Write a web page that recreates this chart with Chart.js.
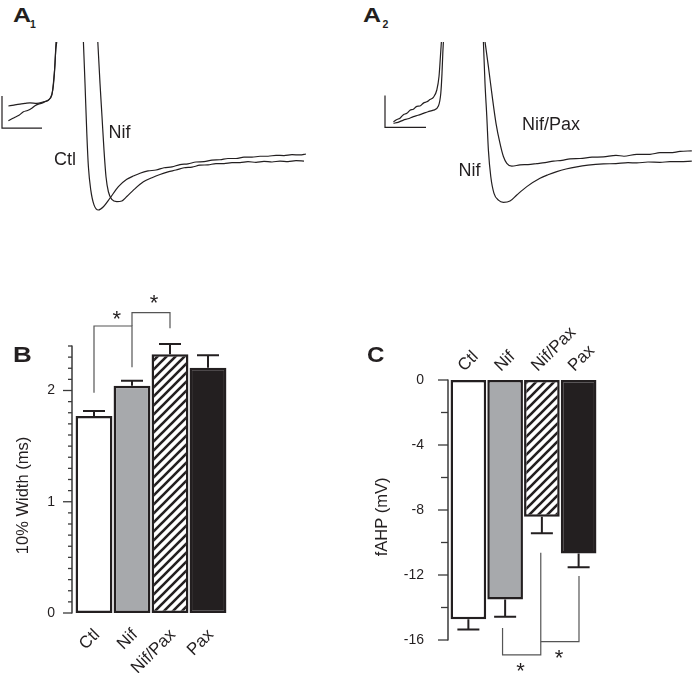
<!DOCTYPE html>
<html><head><meta charset="utf-8">
<script src="https://cdn.jsdelivr.net/npm/chart.js@4.4.1/dist/chart.umd.min.js"></script>
<style>
html,body{margin:0;padding:0;background:#fff;}
#wrap{position:relative;width:693px;height:693px;overflow:hidden;font-family:"Liberation Sans",Arial,sans-serif;color:#231f20;}
#wrap canvas{position:absolute;}
.lbl{position:absolute;white-space:nowrap;line-height:1;}
.bold{font-weight:bold;transform-origin:0 0;}
</style></head><body><div id="wrap">
<canvas id="a1" width="310" height="178" style="left:0;top:42px"></canvas>
<canvas id="a2" width="313" height="178" style="left:380px;top:42px"></canvas>
<canvas id="b" width="345" height="413" style="left:0;top:280px"></canvas>
<canvas id="c" width="343" height="413" style="left:350px;top:280px"></canvas>
<div class="lbl bold" style="left:12.7px;top:4.8px;font-size:20px;transform:scaleX(1.25)">A</div>
<div class="lbl bold" style="left:30px;top:19.4px;font-size:10.5px">1</div>
<div class="lbl bold" style="left:362.5px;top:4.8px;font-size:20px;transform:scaleX(1.25)">A</div>
<div class="lbl bold" style="left:382.5px;top:19.4px;font-size:10.5px">2</div>
<div class="lbl" style="left:54px;top:150.2px;font-size:18px">Ctl</div>
<div class="lbl" style="left:108.6px;top:122.9px;font-size:18px">Nif</div>
<div class="lbl" style="left:522px;top:114.5px;font-size:18px">Nif/Pax</div>
<div class="lbl" style="left:458.6px;top:161.2px;font-size:18px">Nif</div>
<div class="lbl bold" style="left:13px;top:344.4px;font-size:22px;transform:scaleX(1.18)">B</div>
<div class="lbl bold" style="left:367px;top:344.4px;font-size:22px;transform:scaleX(1.1)">C</div>
</div>
<script>
const INK = '#231f20';
const GREY = '#a7a9ac';
Chart.defaults.font.family = '"Liberation Sans", Arial, sans-serif';
Chart.defaults.color = INK;

// ---------- Panel A1 traces (time in ms, membrane potential in mV) ----------
const a1CtlT = [4.17, 4.25, 4.34, 4.42, 4.54, 4.7, 4.92, 5.17, 5.5, 5.92, 6.34, 6.7, 7.0, 7.4, 7.8, 8.2, 8.6, 9.0, 9.4, 9.8, 10.2, 10.6, 11.0, 11.4, 11.8, 12.2, 12.6, 13.0, 13.4, 13.8, 14.2, 14.6, 15.0, 15.3];
const a1CtlV = [-32.4, -45.4, -61.0, -71.5, -78.8, -83.4, -85.0, -84.0, -81.3, -77.7, -75.4, -74.3, -73.5, -72.8, -72.5, -71.8, -71.5, -70.8, -70.6, -70.0, -69.9, -69.4, -69.3, -68.9, -68.9, -68.5, -68.5, -68.2, -68.2, -67.9, -68.0, -67.7, -67.8, -67.5];
const a1NifT = [4.89, 5.0, 5.1, 5.2, 5.3, 5.42, 5.59, 5.84, 6.09, 6.34, 6.67, 7.17, 7.6, 8.0, 8.4, 8.8, 9.2, 9.6, 10.0, 10.4, 10.8, 11.2, 11.6, 12.0, 12.4, 12.8, 13.2, 13.6, 14.0, 14.4, 14.8, 15.2];
const a1NifV = [-32.4, -45.4, -55.8, -66.3, -74.6, -79.3, -81.7, -82.4, -82.2, -80.8, -78.8, -76.2, -74.9, -73.9, -73.1, -72.5, -71.8, -71.6, -71.0, -70.9, -70.5, -70.5, -70.2, -70.2, -69.9, -70.1, -69.8, -70.0, -69.7, -69.9, -69.6, -69.7];
const a1PreCtlT = [0.42, 0.7, 1.0, 1.25, 1.5, 1.84, 2.17, 2.42, 2.59, 2.67, 2.75, 2.8];
const a1PreCtlV = [-52.5, -52.2, -51.9, -51.7, -51.5, -51.7, -51.2, -50.6, -49.1, -45.4, -39.2, -32.4];
const a1PreNifT = [0.42, 0.6, 0.75, 0.95, 1.17, 1.38, 1.59, 1.75, 1.92, 2.1, 2.25, 2.5, 2.64, 2.72, 2.79, 2.84];
const a1PreNifV = [-57.1, -56.5, -56.0, -55.4, -54.3, -53.9, -53.2, -52.4, -51.9, -51.6, -51.2, -50.1, -47.5, -42.3, -35.0, -32.4];
const a1BarT = [0.1, 0.1, 2.1];
const a1BarV = [-49.4, -59.4, -59.4];

// ---------- Panel A2 traces ----------
const a2NifT = [5.17, 5.25, 5.34, 5.42, 5.54, 5.7, 5.92, 6.17, 6.5, 6.84, 7.34, 8.0, 8.4, 8.84, 9.3, 9.84, 10.4, 11.17, 11.8, 12.4, 12.84, 13.4, 14.0, 14.5, 15.0, 15.59];
const a2NifV = [-32.4, -45.4, -55.8, -66.3, -74.6, -79.8, -81.9, -82.6, -82.2, -80.3, -77.7, -75.1, -74.0, -73.0, -72.2, -71.5, -71.0, -70.6, -70.5, -70.2, -70.3, -70.0, -70.1, -69.9, -69.9, -69.7];
const a2NifPaxT = [5.25, 5.42, 5.59, 5.8, 6.0, 6.17, 6.34, 6.59, 7.0, 7.4, 7.84, 8.25, 8.67, 9.1, 9.5, 10.0, 10.6, 11.17, 11.8, 12.2, 12.84, 13.5, 14.0, 14.5, 15.0, 15.59];
const a2NifPaxV = [-32.4, -40.2, -48.5, -57.9, -64.2, -68.3, -70.4, -71.3, -70.9, -70.8, -70.5, -70.2, -69.7, -69.5, -69.0, -68.9, -68.5, -68.4, -67.9, -68.2, -67.6, -67.6, -67.1, -67.1, -66.7, -66.5];
const a2PreNifT = [0.67, 0.85, 1.0, 1.17, 1.34, 1.5, 1.67, 1.84, 2.0, 2.17, 2.34, 2.5, 2.67, 2.84, 2.95, 3.02, 3.07];
const a2PreNifV = [-57.4, -56.7, -56.3, -55.2, -54.8, -53.8, -53.5, -52.6, -52.5, -51.6, -51.2, -50.5, -49.8, -47.5, -43.3, -37.1, -32.4];
const a2PreNifPaxT = [0.67, 0.9, 1.17, 1.4, 1.67, 1.9, 2.17, 2.4, 2.67, 2.92, 3.04, 3.1, 3.14, 3.17];
const a2PreNifPaxV = [-57.9, -57.6, -56.9, -56.5, -55.8, -55.4, -54.8, -54.3, -53.8, -52.5, -48.5, -42.3, -36.0, -32.4];
const a2BarT = [0.25, 0.25, 2.3];
const a2BarV = [-49.2, -59.2, -59.2];

// ---------- Panels B and C ----------
const categories = ['Ctl', 'Nif', 'Nif/Pax', 'Pax'];
const widthMean = [1.77, 2.043, 2.325, 2.205];
const widthErr = [0.046, 0.045, 0.093, 0.111];
const fahpMean = [-14.73, -13.5, -8.41, -10.67];
const fahpErr = [0.62, 1.07, 1.02, 0.86];
const bBrackets = [[[0, 1.98], [0, 2.58], [1, 2.58], [1, 2.21]], [[1, 2.58], [1, 2.70], [2, 2.70], [2, 2.56]]];
const bStars = [[0.6, 2.68], [1.58, 2.82]];
const cBrackets = [[[0.93, -15.26], [0.93, -16.92], [1.97, -16.92], [1.97, -10.63]], [[1.97, -16.1], [3.01, -16.1], [3.01, -12.06]]];
const cStars = [[1.42, -17.68], [2.47, -16.86]];

function pts(t, v) { return t.map((x, i) => ({x: x, y: v[i]})); }
function trace(t, v, smooth) {
  return {data: pts(t, v), showLine: true, borderColor: INK, borderWidth: 1.2, pointRadius: 0,
    fill: false, cubicInterpolationMode: smooth ? 'monotone' : 'default', tension: 0};
}
function traceChart(id, sets, xmax) {
  new Chart(document.getElementById(id), {
    type: 'scatter',
    data: {datasets: sets},
    options: {
      responsive: false, animation: false, events: [],
      layout: {padding: 0},
      plugins: {legend: {display: false}, tooltip: {enabled: false}},
      scales: {
        x: {type: 'linear', min: 0, max: xmax, display: false},
        y: {type: 'linear', min: -88.125, max: -32.5, display: false}
      }
    }
  });
}
traceChart('a1', [
  trace(a1CtlT, a1CtlV, true), trace(a1NifT, a1NifV, true),
  trace(a1PreCtlT, a1PreCtlV, true), trace(a1PreNifT, a1PreNifV, true),
  trace(a1BarT, a1BarV, false)
], 15.5);
traceChart('a2', [
  trace(a2NifT, a2NifV, true), trace(a2NifPaxT, a2NifPaxV, true),
  trace(a2PreNifT, a2PreNifV, true), trace(a2PreNifPaxT, a2PreNifPaxV, true),
  trace(a2BarT, a2BarV, false)
], 15.65);

function hatch() {
  const s = 9, c = document.createElement('canvas'); c.width = s; c.height = s;
  const g = c.getContext('2d');
  g.fillStyle = '#fff'; g.fillRect(0, 0, s, s);
  g.strokeStyle = INK; g.lineWidth = 2.6;
  g.beginPath();
  g.moveTo(-2, s + 2); g.lineTo(s + 2, -2);
  g.moveTo(-2, 2); g.lineTo(2, -2);
  g.moveTo(s - 2, s + 2); g.lineTo(s + 2, s - 2);
  g.stroke();
  return g.createPattern(c, 'repeat');
}
const fills = ['#ffffff', GREY, hatch(), INK];

function axisPlugin(gap, major, minor) {
  return {id: 'axisTicks', afterDraw(chart) {
    const y = chart.scales.y, ctx = chart.ctx;
    const x0 = chart.chartArea.left - gap;
    ctx.save();
    ctx.strokeStyle = '#3a3a3a'; ctx.lineWidth = 1.5;
    ctx.beginPath();
    ctx.moveTo(x0, y.getPixelForValue(y.min) + 0.5); ctx.lineTo(x0, y.getPixelForValue(y.max) - 0.5);
    ctx.stroke();
    ctx.lineWidth = 1.3;
    y.ticks.forEach(t => {
      const py = y.getPixelForValue(t.value);
      const len = (t.label !== '' && t.label !== undefined) ? major : minor;
      ctx.beginPath(); ctx.moveTo(x0 - len, py); ctx.lineTo(x0, py); ctx.stroke();
    });
    ctx.restore();
  }};
}
function errPlugin(errs, dir) {
  return {id: 'errBars', afterDatasetsDraw(chart) {
    const meta = chart.getDatasetMeta(0), y = chart.scales.y, ctx = chart.ctx;
    const vals = chart.data.datasets[0].data;
    ctx.save(); ctx.strokeStyle = INK; ctx.lineWidth = 2;
    meta.data.forEach((bar, i) => {
      const y0 = y.getPixelForValue(vals[i]);
      const y1 = y.getPixelForValue(vals[i] + dir * errs[i]);
      ctx.beginPath();
      ctx.moveTo(bar.x, y0); ctx.lineTo(bar.x, y1);
      ctx.moveTo(bar.x - 11, y1); ctx.lineTo(bar.x + 11, y1);
      ctx.stroke();
    });
    ctx.restore();
  }};
}
function sigPlugin(brackets, stars) {
  return {id: 'sig', afterDraw(chart) {
    const x = chart.scales.x, y = chart.scales.y, ctx = chart.ctx;
    ctx.save(); ctx.strokeStyle = '#555'; ctx.lineWidth = 1.2;
    brackets.forEach(b => {
      ctx.beginPath();
      b.forEach((p, k) => {
        const px = x.getPixelForValue(p[0]), py = y.getPixelForValue(p[1]);
        if (k) ctx.lineTo(px, py); else ctx.moveTo(px, py);
      });
      ctx.stroke();
    });
    ctx.fillStyle = INK; ctx.font = '22px "Liberation Sans", Arial, sans-serif';
    ctx.textAlign = 'center'; ctx.textBaseline = 'middle';
    stars.forEach(s => ctx.fillText('*', x.getPixelForValue(s[0]), y.getPixelForValue(s[1]) + 5));
    ctx.restore();
  }};
}

new Chart(document.getElementById('b'), {
  type: 'bar',
  data: {labels: categories, datasets: [{data: widthMean, backgroundColor: fills, borderColor: INK,
    borderWidth: 2.5, borderSkipped: false, barPercentage: 0.97, categoryPercentage: 1}]},
  options: {
    responsive: false, animation: false, events: [],
    layout: {padding: {left: 14, top: 66, right: 118, bottom: 20}},
    plugins: {legend: {display: false}, tooltip: {enabled: false}},
    scales: {
      x: {grid: {display: false, drawTicks: false}, border: {display: false},
        ticks: {autoSkip: false, minRotation: 45, maxRotation: 45, padding: 12, labelOffset: 3, color: INK, font: {size: 17}},
        afterFit(s) { s.height = 60; }},
      y: {min: 0, max: 2.4, grid: {display: false, drawTicks: false}, border: {display: false},
        ticks: {stepSize: 0.1, autoSkip: false, padding: 20, color: INK, font: {size: 14},
          callback(v) { return Math.abs(v - Math.round(v)) < 1e-6 ? String(Math.round(v)) : ''; }},
        title: {display: true, text: '10% Width (ms)       ', color: INK, font: {size: 16.5}, padding: {top: 0, bottom: 0}},
        afterFit(s) { s.width = 61; }}
    }
  },
  plugins: [axisPlugin(3, 9, 4), errPlugin(widthErr, 1), sigPlugin(bBrackets, bStars)]
});

new Chart(document.getElementById('c'), {
  type: 'bar',
  data: {labels: categories, datasets: [{data: fahpMean, backgroundColor: fills, borderColor: INK,
    borderWidth: 2.5, borderSkipped: false, barPercentage: 0.97, categoryPercentage: 1}]},
  options: {
    responsive: false, animation: false, events: [],
    layout: {padding: {left: 23, top: 0, right: 96, bottom: 53}},
    plugins: {legend: {display: false}, tooltip: {enabled: false}},
    scales: {
      x: {position: 'top', grid: {display: false, drawTicks: false}, border: {display: false},
        ticks: {autoSkip: false, minRotation: 45, maxRotation: 45, padding: 4, labelOffset: 7, color: INK, font: {size: 17}},
        afterFit(s) { s.height = 100; }},
      y: {min: -16, max: 0, grid: {display: false, drawTicks: false}, border: {display: false},
        ticks: {stepSize: 2, autoSkip: false, padding: 26, color: INK, font: {size: 14},
          callback(v) { return v % 4 === 0 ? String(v) : ''; }},
        title: {display: true, text: 'fAHP (mV)   ', color: INK, font: {size: 16.5}, padding: {top: 0, bottom: 0}},
        afterFit(s) { s.width = 77; }}
    }
  },
  plugins: [axisPlugin(2, 10, 7), errPlugin(fahpErr, -1), sigPlugin(cBrackets, cStars)]
});
</script>
</body></html>
